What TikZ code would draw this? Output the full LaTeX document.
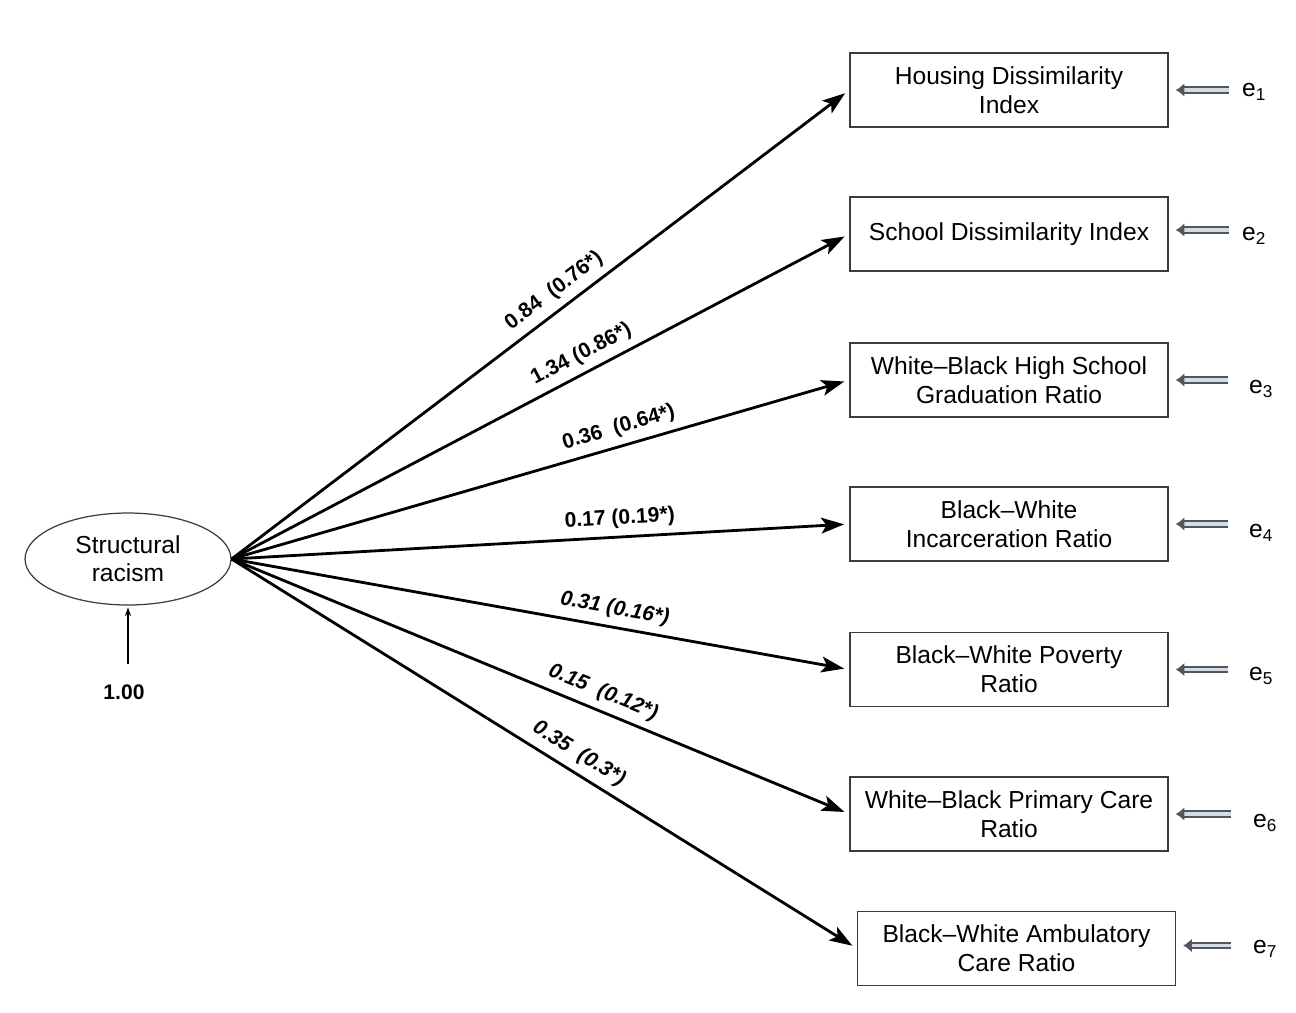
\documentclass[tikz,border=0pt]{standalone}
\usepackage{fontspec}
\setmainfont{Liberation Sans}
\usetikzlibrary{calc}
\usetikzlibrary{arrows.meta}
\usetikzlibrary{shapes.geometric}
\definecolor{boxgray}{RGB}{60, 60, 60}
\definecolor{errgray}{RGB}{80, 86, 92}
\definecolor{errfill}{RGB}{212, 220, 228}

\tikzset{
  indicator/.style={draw=boxgray, line width=0.8pt, minimum width=6.36cm, minimum height=1.48cm,
                    align=center, inner sep=2pt, font=\fontsize{14}{16.5}\selectfont},
  latent/.style={ellipse, draw=boxgray, line width=0.7pt, minimum width=4.12cm, minimum height=1.84cm,
                 inner sep=0pt, align=center, font=\fontsize{14}{16}\selectfont},
  loading/.style={-{Stealth[length=13pt, width=9pt, inset=3pt]}, line width=1.6pt, shorten >=3pt},
  coef/.style={sloped, above, inner sep=4pt, font=\bfseries\fontsize{12}{14}\selectfont},
  coefit/.style={coef, font=\bfseries\itshape\fontsize{12}{14}\selectfont},
  errarrow/.style={draw=errgray, double=errfill, double distance=2.2pt, line width=1pt,
                   -{Latex[length=5pt, width=8pt]}, shorten >=4pt},
  errlabel/.style={anchor=west, inner sep=1pt, font=\fontsize{14}{16}\selectfont}
}

\begin{document}
\begin{tikzpicture}[x=0.02cm, y=-0.02cm]
  \useasboundingbox (0, 0) rectangle (1296, 1012);

  \node[latent] (sr) at (128, 559) {Structural\\racism};
  \node[font=\bfseries\fontsize{12}{14}\selectfont] (var) at (124, 692) {1.00};

  \node[indicator] (hdi)  at (1009,   90) {Housing Dissimilarity\\Index};
  \node[indicator] (sdi)  at (1009,  234) {School Dissimilarity Index};
  \node[indicator] (grad) at (1009,  380) {White--Black High School\\Graduation Ratio};
  \node[indicator] (inc)  at (1009,  524) {Black--White\\Incarceration Ratio};
  \node[indicator] (pov)  at (1009, 669.5) {Black--White Poverty\\Ratio};
  \node[indicator] (pcr)  at (1009,  814) {White--Black Primary Care\\Ratio};
  \node[indicator] (amb)  at (1016.5, 948.5) {Black--White Ambulatory\\Care Ratio};

  \node[errlabel] (e1) at (1240,  92) {e\textsubscript{1}};
  \node[errlabel] (e2) at (1240, 236) {e\textsubscript{2}};
  \node[errlabel] (e3) at (1247, 389) {e\textsubscript{3}};
  \node[errlabel] (e4) at (1247, 533) {e\textsubscript{4}};
  \node[errlabel] (e5) at (1247, 676) {e\textsubscript{5}};
  \node[errlabel] (e6) at (1251, 823) {e\textsubscript{6}};
  \node[errlabel] (e7) at (1251, 949) {e\textsubscript{7}};

  \draw[-{Stealth[length=5pt, width=3.5pt]}, line width=0.6pt, shorten <=8pt, shorten >=1pt] (sr.south |- var.north) -- (sr.south);

  \draw[loading] (sr.east) -- (hdi.west)  node[coef,   pos=0.54]  {0.84\ \ (0.76*)};
  \draw[loading] (sr.east) -- (sdi.west)  node[coef,   pos=0.58]  {1.34 (0.86*)};
  \draw[loading] (sr.east) -- (grad.west) node[coef,   pos=0.635] {0.36\ \ (0.64*)};
  \draw[loading] (sr.east) -- (inc.west)  node[coef,   pos=0.63]  {0.17 (0.19*)};
  \draw[loading] (sr.east) -- (pov.west)  node[coefit, pos=0.615] {0.31 (0.16*)};
  \draw[loading] (sr.east) -- (pcr.west)  node[coefit, pos=0.59]  {0.15\ \ (0.12*)};
  \draw[loading] (sr.east) -- (amb.west)  node[coefit, pos=0.54]  {0.35\ \ (0.3*)};

  \draw[errarrow] ($(hdi.east)+(60, 0)$)  -- (hdi.east);
  \draw[errarrow] ($(sdi.east)+(60, -4)$) -- ($(sdi.east)+(0, -4)$);
  \draw[errarrow] ($(grad.east)+(59, 0)$) -- (grad.east);
  \draw[errarrow] ($(inc.east)+(59, 0)$)  -- (inc.east);
  \draw[errarrow] ($(pov.east)+(59, 0)$)  -- (pov.east);
  \draw[errarrow] ($(pcr.east)+(62, 0)$)  -- (pcr.east);
  \draw[errarrow] ($(amb.east)+(55, -3)$) -- ($(amb.east)+(0, -3)$);
\end{tikzpicture}
\end{document}
